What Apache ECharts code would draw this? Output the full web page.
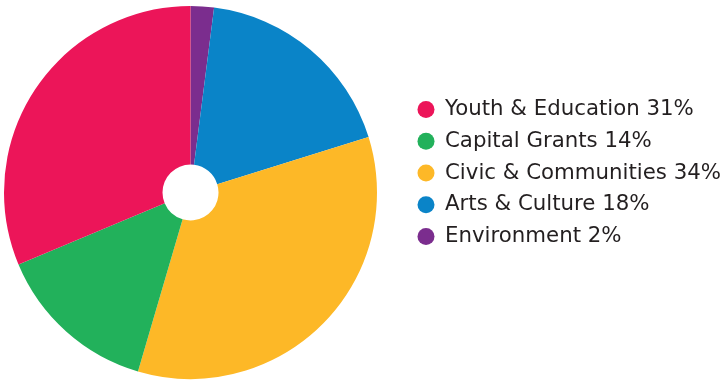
<!DOCTYPE html>
<html>
<head>
<meta charset="utf-8">
<script src="https://cdn.jsdelivr.net/npm/echarts@6/dist/echarts.min.js"></script>
<style>
  html, body { margin: 0; padding: 0; background: #fff; }
  #chart { width: 724px; height: 381px; }
</style>
</head>
<body>
<div id="chart"></div>
<script>
// Funding share by programme area (percent), listed clockwise from 12 o'clock
const categories = ['Environment', 'Arts & Culture', 'Civic & Communities', 'Capital Grants', 'Youth & Education'];
const shares = [2, 18, 34, 14, 31];
const colors = ['#7b2d8e', '#0a84c8', '#fdb827', '#22b15b', '#ec1559'];
// Legend reading order
const legendOrder = ['Youth & Education', 'Capital Grants', 'Civic & Communities', 'Arts & Culture', 'Environment'];

const pieData = categories.map((name, i) => ({
  name: name,
  value: shares[i],
  itemStyle: { color: colors[i] }
}));

const chart = echarts.init(document.getElementById('chart'), null, { renderer: 'canvas' });
chart.setOption({
  animation: false,
  legend: {
    orient: 'vertical',
    left: 417.5,
    top: 99,
    padding: 0,
    data: legendOrder,
    icon: 'circle',
    itemWidth: 17,
    itemHeight: 17,
    itemGap: 10.75,
    selectedMode: false,
    formatter: function (name) {
      const i = categories.indexOf(name);
      return name + ' ' + shares[i] + '%';
    },
    textStyle: {
      fontFamily: 'DejaVu Sans',
      fontSize: 21.3,
      color: '#231f20',
      padding: [0, 0, 0, 5.5],
      lineHeight: 21
    }
  },
  series: [{
    type: 'pie',
    center: [190.5, 192.5],
    radius: [28, 186.5],
    startAngle: 90,
    clockwise: true,
    label: { show: false },
    labelLine: { show: false },
    emphasis: { disabled: true },
    itemStyle: { borderWidth: 0 },
    data: pieData
  }]
});
</script>
</body>
</html>
